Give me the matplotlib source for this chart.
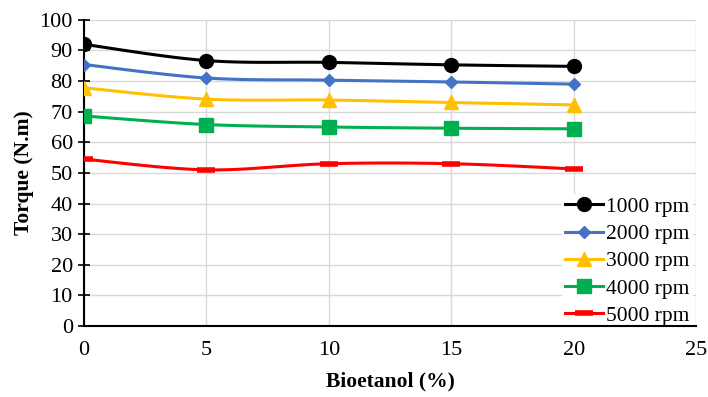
import numpy as np
import matplotlib.pyplot as plt
import matplotlib as mat

mat.rcParams['font.family'] = 'serif'
mat.rcParams['font.serif'] = ['Liberation Serif', 'DejaVu Serif']

bioetanol = [0, 5, 10, 15, 20]
rpm_labels = ["1000 rpm", "2000 rpm", "3000 rpm", "4000 rpm", "5000 rpm"]
torque_1000 = [92.0, 86.7, 86.1, 85.3, 84.8]
torque_2000 = [85.4, 81.0, 80.3, 79.7, 79.0]
torque_3000 = [77.8, 74.1, 73.8, 73.0, 72.2]
torque_4000 = [68.6, 65.8, 65.0, 64.6, 64.4]
torque_5000 = [54.5, 51.0, 53.0, 53.0, 51.3]

series = [torque_1000, torque_2000, torque_3000, torque_4000, torque_5000]
colors = ["black", "#4472C4", "#FFC000", "#00B050", "#FF0000"]
markers = ["o", "D", "^", "s", "_"]
msizes = [10, 6.5, 9.5, 9.5, 13]


def smooth(x, y, n=30):
    # excel-style smoothed line (bezier through points)
    x = np.asarray(x, float)
    y = np.asarray(y, float)
    px = np.concatenate([[x[0]], x, [x[-1]]])
    py = np.concatenate([[y[0]], y, [y[-1]]])
    xs, ys = [], []
    t = np.linspace(0, 1, n)
    for i in range(1, len(px) - 2):
        p0 = np.array([px[i], py[i]])
        p3 = np.array([px[i + 1], py[i + 1]])
        p1 = p0 + (np.array([px[i + 1], py[i + 1]]) - np.array([px[i - 1], py[i - 1]])) / 6
        p2 = p3 - (np.array([px[i + 2], py[i + 2]]) - np.array([px[i], py[i]])) / 6
        b = ((1 - t) ** 3)[:, None] * p0 + (3 * (1 - t) ** 2 * t)[:, None] * p1 \
            + (3 * (1 - t) * t ** 2)[:, None] * p2 + (t ** 3)[:, None] * p3
        xs.extend(b[:, 0])
        ys.extend(b[:, 1])
    return xs, ys


fig = plt.figure(figsize=(7.08, 3.97), dpi=100)
ax = fig.add_axes([0.1186, 0.179, 0.865, 0.771])
fsize = 16

handles = []
for y, c, m, ms, lab in zip(series, colors, markers, msizes, rpm_labels):
    sx, sy = smooth(bioetanol, y)
    ax.plot(sx, sy, color=c, linewidth=2.2, zorder=3)
    ax.plot(bioetanol, y, linestyle="none", marker=m, color=c, markersize=ms,
            markeredgewidth=4 if m == "_" else 1, zorder=4)
    h, = ax.plot([], [], color=c, linewidth=2.2, marker=m, markersize=ms,
                 markeredgewidth=4 if m == "_" else 1, label=lab)
    handles.append(h)

ax.set_xlim(0, 25)
ax.set_ylim(0, 100)
ax.set_xticks(range(0, 26, 5))
ax.set_yticks(range(0, 101, 10))
ax.grid(True, color="#D9D9D9", linewidth=1)
ax.set_axisbelow(True)
for s in ["top", "right"]:
    ax.spines[s].set_visible(False)
ax.spines["left"].set_linewidth(1.5)
ax.spines["bottom"].set_linewidth(1.5)
ax.spines["bottom"].set_zorder(6)
ax.tick_params(axis='y', direction='inout', length=8, width=1.2, labelsize=fsize, pad=4)
ax.tick_params(axis='x', length=0, labelsize=fsize, pad=11)
ax.set_xlabel("Bioetanol (%)", fontsize=fsize - 0.5, fontweight="bold", labelpad=8)
ax.set_ylabel("Torque (N.m)", fontsize=fsize - 0.5, fontweight="bold", labelpad=4)

leg = ax.legend(handles=handles, loc="lower right", bbox_to_anchor=(1.012, -0.045),
                frameon=True, fontsize=fsize - 0.5, handlelength=1.75, handletextpad=0.15,
                labelspacing=0.33, borderpad=0.15, fancybox=False)
leg.get_frame().set_edgecolor("none")
leg.get_frame().set_facecolor("white")
leg.get_frame().set_alpha(1)

plt.savefig("out.png", dpi=100)
